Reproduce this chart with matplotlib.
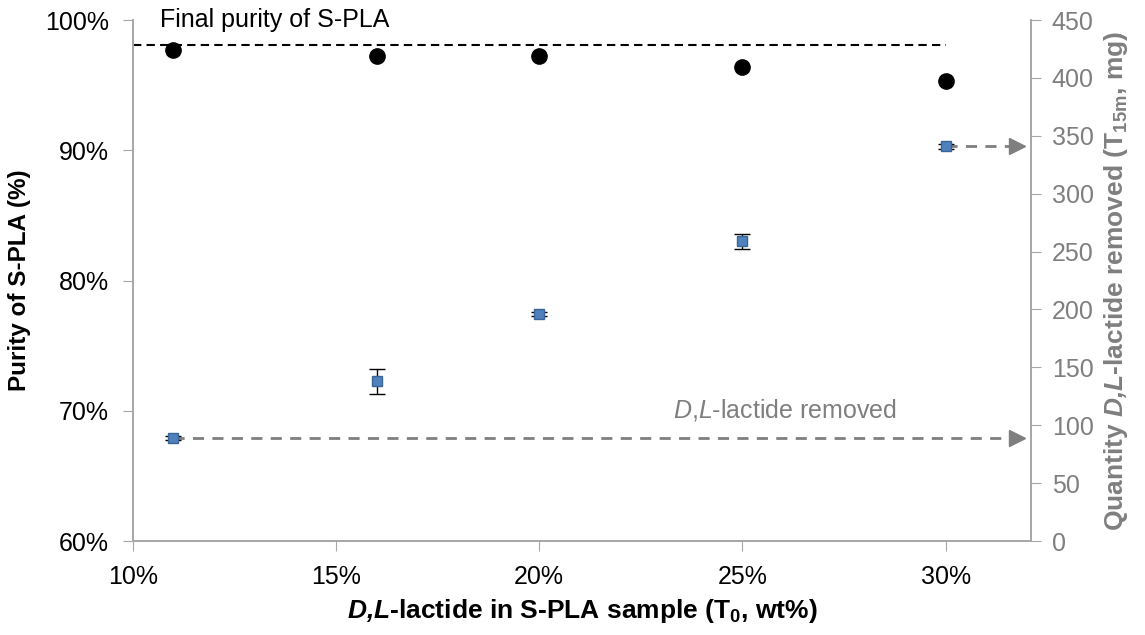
import matplotlib
matplotlib.use("Agg")
from matplotlib import pyplot as plt
from matplotlib.ticker import FuncFormatter

plt.rcParams['font.family'] = ['Liberation Sans', 'DejaVu Sans']
plt.rcParams['mathtext.fontset'] = 'custom'
plt.rcParams['mathtext.rm'] = 'Liberation Sans'
plt.rcParams['mathtext.it'] = 'Liberation Sans:italic'
plt.rcParams['mathtext.bf'] = 'Liberation Sans:bold'
plt.rcParams['mathtext.bfit'] = 'Liberation Sans:italic:bold'

# D,L-lactide content of the starting sample (wt%)
lactide_t0 = [11, 16, 20, 25, 30]
# final purity of S-PLA (%)
purity = [97.7, 97.2, 97.2, 96.4, 95.3]
final_purity_line = 98.1
# D,L-lactide removed after 15 min (mg) with error
removed = [89, 138, 196, 259, 341]
removed_err = [1.5, 11, 2, 6.5, 2]

grey = '#7f7f7f'
spine_grey = '#a6a6a6'

fig = plt.figure(figsize=(11.45, 6.35), dpi=100)
ax = fig.add_axes([0.116, 0.148, 0.7844, 0.8205])
ax2 = ax.twinx()

# purity (left axis)
ax.plot(lactide_t0, purity, 'o', color='black', markersize=11, zorder=5)
ax.plot([10, 30], [final_purity_line, final_purity_line], '--', color='black',
        lw=1.5, dashes=(4, 2.5))
ax.text(10.66, 100, 'Final purity of S-PLA', fontsize=18, va='center', ha='left')

# quantity removed (right axis)
ax2.errorbar(lactide_t0, removed, yerr=removed_err, fmt='s', color='#4f81bd',
             mec='#3b6496', markersize=7, ecolor='black', elinewidth=1,
             capsize=6, capthick=1, zorder=5)

# dashed arrows pointing at the right axis
for i in (0, -1):
    ax2.plot([lactide_t0[i], 31.7], [removed[i], removed[i]], color=grey,
             lw=2, dashes=(4, 3), zorder=3)
    ax2.plot([31.75], [removed[i]], marker='>', color=grey, markersize=11,
             clip_on=False, zorder=3)
ax2.text(26.05, 113, '$\\mathit{D{,}L}$-lactide removed', fontsize=18,
         color=grey, ha='center', va='center')

ax.set_xlim(10, 32.1)
ax.set_ylim(60, 100)
ax2.set_ylim(0, 450)

ax.set_xticks([10, 15, 20, 25, 30])
ax.xaxis.set_major_formatter(FuncFormatter(lambda v, p: f'{v:.0f}%'))
ax.set_yticks([60, 70, 80, 90, 100])
ax.yaxis.set_major_formatter(FuncFormatter(lambda v, p: f'{v:.0f}%'))
ax2.set_yticks(range(0, 451, 50))

for a in (ax, ax2):
    a.spines['top'].set_visible(False)
    for s in ('left', 'right', 'bottom'):
        a.spines[s].set_color(spine_grey)
        a.spines[s].set_linewidth(1.2)

ax.tick_params(axis='x', labelsize=18, color=spine_grey, length=7, pad=10)
ax.tick_params(axis='y', labelsize=18, color=spine_grey, length=7, pad=10)
ax2.tick_params(axis='y', labelsize=18, color=spine_grey, labelcolor=grey,
                length=7, pad=8)

ax.set_xlabel('$\\mathbfit{D{,}L}$-lactide in S-PLA sample (T$_\\mathbf{0}$, wt%)',
              fontsize=19, fontweight='bold', labelpad=6)
ax.set_ylabel('Purity of S-PLA (%)', fontsize=17.5, fontweight='bold', labelpad=10)
ax2.set_ylabel('Quantity $\\mathbfit{D{,}L}$-lactide removed (T$_\\mathbf{15m}$, mg)',
               fontsize=19, fontweight='bold', color=grey, labelpad=6)

fig.savefig('out.png', dpi=100)
